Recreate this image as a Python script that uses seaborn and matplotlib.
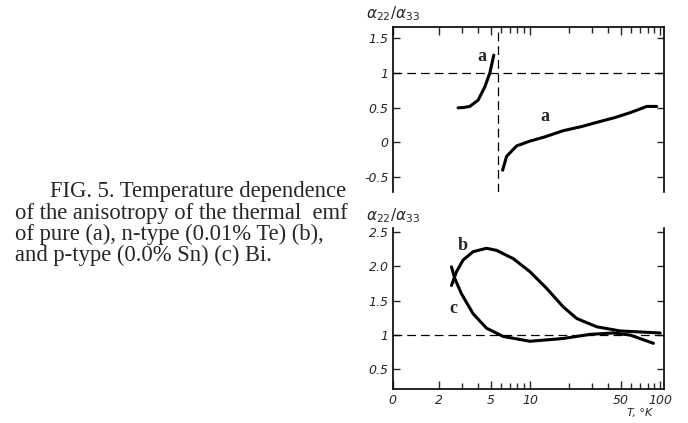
import matplotlib
matplotlib.use('Agg')
import matplotlib.pyplot as plt
from matplotlib.ticker import FixedLocator, FixedFormatter, NullFormatter
import seaborn as sns

# pure Bi (a): branch below and above the ~5.7 K divergence
a_low_T = [2.81, 3.1, 3.45, 4.0, 4.5, 4.92, 5.28]
a_low_ratio = [0.50, 0.505, 0.52, 0.61, 0.80, 1.0, 1.26]
a_high_T = [6.17, 6.62, 7.9, 10, 13, 18, 25, 32.6, 45, 58.8, 79, 94]
a_high_ratio = [-0.40, -0.20, -0.05, 0.02, 0.08, 0.17, 0.23, 0.29, 0.36, 0.43, 0.52, 0.52]
a_pole_T = 5.68

# n-type (b) and p-type (c)
b_T = [2.50, 2.73, 3.07, 3.66, 4.64, 5.54, 7.44, 10, 13.4, 18.0, 22.9, 32.6, 49.2, 100]
b_ratio = [1.72, 1.92, 2.09, 2.21, 2.26, 2.23, 2.11, 1.92, 1.68, 1.41, 1.24, 1.12, 1.06, 1.03]
c_T = [2.50, 2.65, 2.98, 3.66, 4.64, 6.23, 10, 18.0, 28.9, 43.7, 58.8, 88.8]
c_ratio = [1.99, 1.82, 1.60, 1.31, 1.10, 0.98, 0.91, 0.95, 1.01, 1.03, 1.00, 0.88]

top_yticks = [1.5, 1, 0.5, 0, -0.5]
top_ylabels = ['1.5', '1', '0.5', '0', '-0.5']
bot_yticks = [2.5, 2.0, 1.5, 1, 0.5]
bot_ylabels = ['2.5', '2.0', '1.5', '1', '0.5']
x_left, x_right = 0.884, 107
x_ticks = [x_left, 2, 5, 10, 50, 100]
x_labels = ['0', '2', '5', '10', '50', '100']
x_minor = [3, 4, 6, 7, 8, 9, 20, 30, 40, 60, 70, 80, 90]

caption = ['FIG. 5. Temperature dependence',
           'of the anisotropy of the thermal  emf',
           'of pure (a), n-type (0.01% Te) (b),',
           'and p-type (0.0% Sn) (c) Bi.']

sns.set_style('ticks')
plt.rcParams['axes.unicode_minus'] = False
plt.rcParams['font.family'] = ['DejaVu Sans']

fig = plt.figure(figsize=(6.88, 4.23), dpi=100)
ax1 = fig.add_axes([0.5708, 0.5468, 0.3943, 0.3901])
ax2 = fig.add_axes([0.5708, 0.0804, 0.3943, 0.3799])

line_kw = dict(color='black', linewidth=2.2, estimator=None, sort=False, legend=False)
dash = (0, (7, 4))

sns.lineplot(x=a_low_T, y=a_low_ratio, ax=ax1, **line_kw)
sns.lineplot(x=a_high_T, y=a_high_ratio, ax=ax1, **line_kw)
ax1.axhline(1, color='black', lw=0.9, ls=dash)
ax1.axvline(a_pole_T, color='black', lw=0.9, ls=dash)

sns.lineplot(x=b_T, y=b_ratio, ax=ax2, **line_kw)
sns.lineplot(x=c_T, y=c_ratio, ax=ax2, **line_kw)
ax2.axhline(1, color='black', lw=0.9, ls=dash)

for ax, yt, yl, ylim in [(ax1, top_yticks, top_ylabels, (-0.71, 1.67)),
                         (ax2, bot_yticks, bot_ylabels, (0.217, 2.55))]:
    ax.set_xscale('log')
    ax.set_xlim(x_left, x_right)
    ax.set_ylim(*ylim)
    ax.set_yticks(yt)
    ax.set_yticklabels(yl, fontstyle='italic', fontsize=9)
    ax.xaxis.set_major_locator(FixedLocator(x_ticks))
    ax.xaxis.set_minor_locator(FixedLocator(x_minor))
    ax.xaxis.set_minor_formatter(NullFormatter())
    ax.tick_params(axis='y', direction='in', left=True, right=True, length=5, width=1, pad=3)
    ax.tick_params(axis='x', which='major', direction='in', length=6, width=1)
    ax.tick_params(axis='x', which='minor', direction='in', length=4, width=1)
    for s in ax.spines.values():
        s.set_linewidth(1.2)
        s.set_color('black')
    ax.set_xlabel('')
    ax.set_ylabel('')

ax1.spines['bottom'].set_visible(False)
ax1.tick_params(axis='x', which='both', bottom=False, top=True, labelbottom=False, labeltop=False)
ax2.spines['top'].set_visible(False)
ax2.tick_params(axis='x', which='both', bottom=True, top=False)
ax2.xaxis.set_major_formatter(FixedFormatter(x_labels))
for lab in ax2.get_xticklabels():
    lab.set_fontstyle('italic')
    lab.set_fontsize(9)

label_kw = dict(fontsize=13, family='Liberation Serif', fontweight='bold', ha='center', va='center')
ax1.text(4.25, 1.24, 'a', **label_kw)
ax1.text(13.0, 0.37, 'a', **label_kw)
ax2.text(3.07, 2.30, 'b', **label_kw)
ax2.text(2.57, 1.39, 'c', **label_kw)

fig.text(393 / 688, 1 - 14 / 423, r'$\alpha_{22}/\alpha_{33}$', fontsize=11, ha='center', va='center')
fig.text(393 / 688, 1 - 216 / 423, r'$\alpha_{22}/\alpha_{33}$', fontsize=11, ha='center', va='center')
fig.text(640 / 688, 1 - 413 / 423, 'T, °K', fontsize=8, fontstyle='italic', ha='center', va='center')

for i, line in enumerate(caption):
    x = 50 if i == 0 else 15
    fig.text(x / 688, 1 - (197 + 21.5 * i) / 423, line, fontsize=16.3,
             family='Liberation Serif', ha='left', va='baseline')

fig.savefig('out.png', dpi=100)
